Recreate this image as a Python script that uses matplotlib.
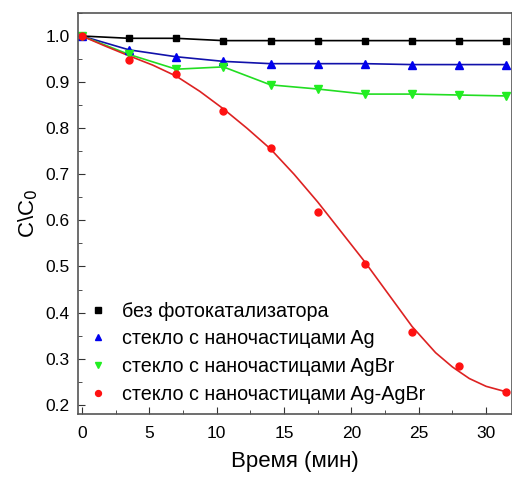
import matplotlib
matplotlib.use("Agg")
from matplotlib import pyplot as plt
from matplotlib.ticker import MultipleLocator

plt.rcParams["font.family"] = ["Liberation Sans", "DejaVu Sans"]

time_min = [0, 3.5, 7, 10.5, 14, 17.5, 21, 24.5, 28, 31.5]

no_catalyst = [1.0, 0.995, 0.995, 0.99, 0.99, 0.99, 0.99, 0.99, 0.99, 0.99]
glass_ag = [1.0, 0.97, 0.955, 0.945, 0.94, 0.94, 0.94, 0.938, 0.938, 0.938]
glass_agbr = [1.0, 0.96, 0.928, 0.933, 0.894, 0.885, 0.874, 0.874, 0.872, 0.87]
glass_ag_agbr = [1.0, 0.948, 0.918, 0.837, 0.757, 0.618, 0.505, 0.358, 0.285, 0.228]

# fitted curve for Ag-AgBr
fit_time = [0, 1.75, 3.5, 5.25, 7, 8.75, 10.5, 12.25, 14, 15.75,
            17.5, 19.25, 21, 22.75, 24.5, 26.25, 27.5, 28.75, 30, 31.5]
fit_ag_agbr = [1.0, 0.978, 0.957, 0.937, 0.913, 0.88, 0.842, 0.80, 0.755, 0.70,
               0.64, 0.575, 0.51, 0.44, 0.37, 0.313, 0.282, 0.257, 0.240, 0.228]

labels = [
    "без фотокатализатора",
    "стекло с наночастицами Ag",
    "стекло с наночастицами AgBr",
    "стекло с наночастицами Ag-AgBr",
]


def main():
    fig = plt.figure(figsize=(5.12, 4.8), dpi=100)
    ax = fig.add_axes([0.152, 0.1375, 0.848, 0.8355])

    ax.plot(time_min, no_catalyst, color="black", lw=1.2)
    ax.plot(time_min, glass_ag, color="#1111aa", lw=1.2)
    ax.plot(time_min, glass_agbr, color="#22dd22", lw=1.2)
    ax.plot(fit_time, fit_ag_agbr, color="#dd2222", lw=1.2)

    ax.plot(time_min, no_catalyst, "s", color="black", ms=5, ls="none", label=labels[0])
    ax.plot(time_min, glass_ag, "^", color="#0000ee", ms=5.5, ls="none", label=labels[1])
    ax.plot(time_min, glass_agbr, "v", color="#22ee22", ms=5.5, ls="none", label=labels[2])
    ax.plot(time_min, glass_ag_agbr, "o", color="#ff1111", ms=5, ls="none", label=labels[3])

    ax.set_xlim(-0.3, 31.92)
    ax.set_ylim(0.18, 1.05)
    ax.xaxis.set_major_locator(MultipleLocator(5))
    ax.xaxis.set_minor_locator(MultipleLocator(2.5))
    ax.yaxis.set_major_locator(MultipleLocator(0.1))
    ax.yaxis.set_minor_locator(MultipleLocator(0.05))
    ax.tick_params(which="both", direction="in", labelsize=12.5, color="#333333")
    ax.tick_params(which="major", length=5)
    ax.tick_params(which="minor", length=3)
    ax.tick_params(axis="x", pad=9)
    ax.tick_params(axis="y", pad=6)
    for s in ax.spines.values():
        s.set_color("#555555")
        s.set_linewidth(1.2)

    ax.set_xlabel("Время (мин)", fontsize=16, labelpad=7)
    ax.set_ylabel("C\\C$_0$", fontsize=16, labelpad=4)

    ax.legend(loc="lower left", frameon=False, fontsize=14.2, handlelength=1.0,
              handletextpad=0.75, labelspacing=0.45, borderaxespad=0.1,
              markerscale=0.85, bbox_to_anchor=(0.0, 0.0))

    plt.savefig("out.png", dpi=100)
    plt.close(fig)


if __name__ == "__main__":
    main()
